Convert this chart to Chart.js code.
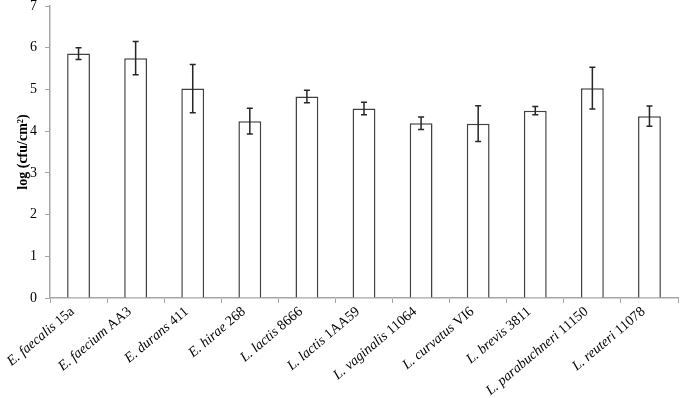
<!DOCTYPE html>
<html>
<head>
<meta charset="utf-8">
<script src="https://cdn.jsdelivr.net/npm/chart.js@4.4.1/dist/chart.umd.min.js"></script>
<style>
  html, body { margin: 0; padding: 0; background: #ffffff; }
  #wrap { width: 680px; height: 398px; }
</style>
</head>
<body>
<div id="wrap"><canvas id="c" width="680" height="398"></canvas></div>
<script>
const categories = [
  "E. faecalis 15a", "E. faecium AA3", "E. durans 411", "E. hirae 268",
  "L. lactis 8666", "L. lactis 1AA59", "L. vaginalis 11064", "L. curvatus VI6",
  "L. brevis 3811", "L. parabuchneri 11150", "L. reuteri 11078"
];
const meanValues = [5.86, 5.75, 5.02, 4.24, 4.83, 4.54, 4.19, 4.18, 4.49, 5.03, 4.36];
const errorValues = [0.14, 0.40, 0.58, 0.31, 0.15, 0.15, 0.15, 0.43, 0.10, 0.50, 0.24];
const yTicks = [0, 1, 2, 3, 4, 5, 6, 7];
const yTitle = "log (cfu/cm\u00B2)";

const errorBarPlugin = {
  id: 'errorBars',
  afterDatasetsDraw(chart) {
    const ctx = chart.ctx;
    const meta = chart.getDatasetMeta(0);
    const ys = chart.scales.y;
    ctx.save();
    ctx.strokeStyle = '#262626';
    ctx.lineWidth = 1.5;
    meta.data.forEach((bar, i) => {
      const x = bar.x;
      const top = ys.getPixelForValue(meanValues[i] + errorValues[i]);
      const bot = ys.getPixelForValue(meanValues[i] - errorValues[i]);
      ctx.beginPath();
      ctx.moveTo(x, top); ctx.lineTo(x, bot);
      ctx.moveTo(x - 3, top); ctx.lineTo(x + 3, top);
      ctx.moveTo(x - 3, bot); ctx.lineTo(x + 3, bot);
      ctx.stroke();
    });
    ctx.restore();
  }
};

const labelPlugin = {
  id: 'mixedLabels',
  afterDraw(chart) {
    const ctx = chart.ctx;
    const xs = chart.scales.x;
    const ang = -0.70;
    ctx.save();
    ctx.fillStyle = '#000000';
    ctx.textBaseline = 'middle';
    ctx.textAlign = 'right';
    categories.forEach((lab, i) => {
      const cut = lab.lastIndexOf(' ');
      const sp = lab.slice(0, cut);
      const st = lab.slice(cut + 1);
      const x = xs.getPixelForValue(i);
      const y = xs.top + 12;
      ctx.save();
      ctx.translate(x - 6, y);
      ctx.rotate(ang);
      ctx.font = '14px "Liberation Serif", "Times New Roman", serif';
      const w = ctx.measureText(st).width;
      ctx.fillText(st, 0, 0);
      const spw = ctx.measureText(' ').width;
      ctx.font = 'italic 14px "Liberation Serif", "Times New Roman", serif';
      ctx.fillText(sp, -w - spw, 0);
      ctx.restore();
    });
    ctx.restore();
  }
};

new Chart(document.getElementById('c'), {
  type: 'bar',
  data: {
    labels: categories,
    datasets: [{
      data: meanValues,
      backgroundColor: '#ffffff',
      borderColor: '#404040',
      borderWidth: 1.5,
      categoryPercentage: 0.4,
      barPercentage: 1.0
    }]
  },
  options: {
    responsive: false,
    animation: false,
    events: [],
    layout: { padding: { top: 6, right: 2, left: 0, bottom: 0 } },
    plugins: { legend: { display: false }, tooltip: { enabled: false } },
    scales: {
      x: {
        offset: true,
        grid: { display: true, drawOnChartArea: false, drawTicks: true, tickLength: 5, color: '#a6a6a6', offset: true },
        border: { color: '#a6a6a6', width: 1.5 },
        ticks: { display: false },
        afterFit(s) { s.height = 100; }
      },
      y: {
        min: 0, max: 7,
        afterBuildTicks(s) { s.ticks = yTicks.map(v => ({ value: v })); },
        grid: { display: true, drawOnChartArea: false, drawTicks: true, tickLength: 5, color: '#a6a6a6' },
        border: { color: '#a6a6a6', width: 1.5 },
        ticks: { color: '#000000', padding: 8, font: { family: '"Liberation Serif", "Times New Roman", serif', size: 14 } },
        title: { display: true, text: yTitle, color: '#000000', padding: { top: 15, bottom: 0 }, font: { family: '"Liberation Serif", "Times New Roman", serif', size: 14, weight: 'bold' } },
        afterFit(s) { s.width = 50; s.paddingTop = 0; s.paddingBottom = 0; }
      }
    }
  },
  plugins: [errorBarPlugin, labelPlugin]
});
</script>
</body>
</html>
